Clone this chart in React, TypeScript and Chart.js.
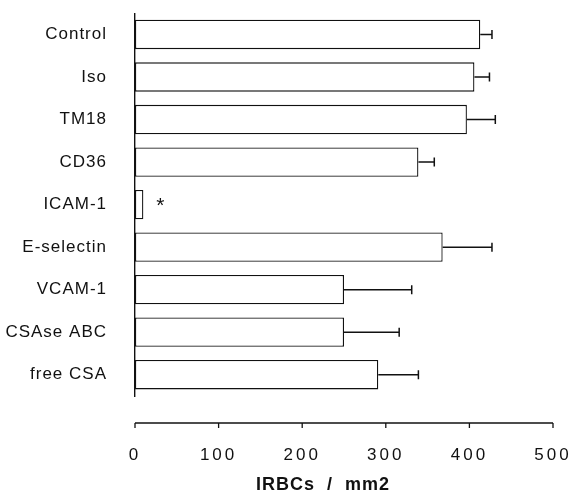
import React, { useEffect, useRef } from "react";
import { Chart, registerables } from "chart.js";

Chart.register(...registerables);

const categories = ["Control", "Iso", "TM18", "CD36", "ICAM-1", "E-selectin", "VCAM-1", "CSAse ABC", "free CSA"];
const values = [413, 406, 397, 339, 10, 368, 250, 250, 291];
const errors = [14, 18, 34, 19, 0, 59, 81, 66, 48];
const marks = ["", "", "", "", "*", "", "", "", ""];
const xMin = 0;
const xMax = 500;
const xStep = 100;
const xTitle = "IRBCs  /  mm2       ";

const FONT = "'Liberation Sans', Arial, Helvetica, sans-serif";
const INK = "#111";

const extrasPlugin = {
  id: "extras",
  beforeDraw(chart: any) {
    chart.ctx.letterSpacing = "1px";
  },
  afterDatasetsDraw(chart: any) {
    const ctx = chart.ctx;
    const xs = chart.scales.x;
    const ys = chart.scales.y;
    const area = chart.chartArea;
    ctx.save();
    ctx.strokeStyle = INK;
    ctx.fillStyle = INK;
    ctx.lineWidth = 1.5;
    // error bars
    values.forEach((v, i) => {
      const e = errors[i];
      const y = ys.getPixelForValue(i);
      if (e > 0) {
        const x1 = xs.getPixelForValue(v);
        const x2 = xs.getPixelForValue(v + e);
        ctx.beginPath();
        ctx.moveTo(x1, y);
        ctx.lineTo(x2, y);
        ctx.moveTo(x2, y - 4.5);
        ctx.lineTo(x2, y + 4.5);
        ctx.stroke();
      }
      if (marks[i]) {
        ctx.letterSpacing = "0px";
        ctx.font = `21px ${FONT}`;
        ctx.textAlign = "left";
        ctx.textBaseline = "middle";
        ctx.fillText(marks[i], xs.getPixelForValue(v + (e || 0)) + 13, y + 2);
      }
    });
    // detached x axis line with downward ticks
    const yAxis = area.bottom + 27;
    ctx.lineWidth = 1.6;
    ctx.beginPath();
    ctx.moveTo(xs.getPixelForValue(xMin), yAxis);
    ctx.lineTo(xs.getPixelForValue(xMax), yAxis);
    ctx.stroke();
    ctx.lineWidth = 1.3;
    xs.ticks.forEach((t: any) => {
      const px = xs.getPixelForValue(t.value);
      ctx.beginPath();
      ctx.moveTo(px, yAxis);
      ctx.lineTo(px, yAxis + 5);
      ctx.stroke();
    });
    ctx.restore();
    ctx.letterSpacing = "3px";
  },
  afterDraw(chart: any) {
    chart.ctx.letterSpacing = "0px";
  },
};

export default function App() {
  const ref = useRef<HTMLCanvasElement | null>(null);

  useEffect(() => {
    if (!ref.current) return;
    const chart = new Chart(ref.current, {
      type: "bar",
      data: {
        labels: categories,
        datasets: [
          {
            data: values,
            backgroundColor: "#ffffff",
            borderColor: INK,
            borderWidth: 1.3,
            borderSkipped: false,
            barPercentage: 0.69,
            categoryPercentage: 1,
          },
        ],
      },
      options: {
        indexAxis: "y",
        responsive: false,
        animation: false,
        layout: { padding: { top: 13, left: 0, right: 17, bottom: 0 } },
        plugins: {
          legend: { display: false },
          tooltip: { enabled: false },
        },
        scales: {
          y: {
            type: "category",
            offset: true,
            grid: { display: false, drawTicks: true, tickLength: 25 },
            border: { display: true, color: INK, width: 1.4 },
            ticks: { padding: 3, color: INK, font: { family: FONT, size: 17 } },
            afterFit: (s: any) => {
              s.width = 135;
            },
          },
          x: {
            type: "linear",
            min: xMin,
            max: xMax,
            grid: { display: false, drawTicks: true, tickLength: 48 },
            border: { display: false },
            ticks: {
              stepSize: xStep,
              padding: 1,
              color: INK,
              z: 1,
              maxRotation: 0,
              autoSkip: false,
              font: { family: FONT, size: 17 },
            },
            title: {
              display: true,
              text: xTitle,
              color: INK,
              font: { family: FONT, size: 18, weight: "bold" },
              padding: { top: 0, bottom: 0 },
            },
            afterFit: (s: any) => {
              s.height = 100;
            },
          },
        },
      },
      plugins: [extrasPlugin],
    } as any);
    return () => chart.destroy();
  }, []);

  return (
    <div style={{ position: "absolute", left: 0, top: 0, width: 570, height: 496, background: "#fff" }}>
      <canvas ref={ref} width={570} height={496} style={{ display: "block" }} />
    </div>
  );
}
